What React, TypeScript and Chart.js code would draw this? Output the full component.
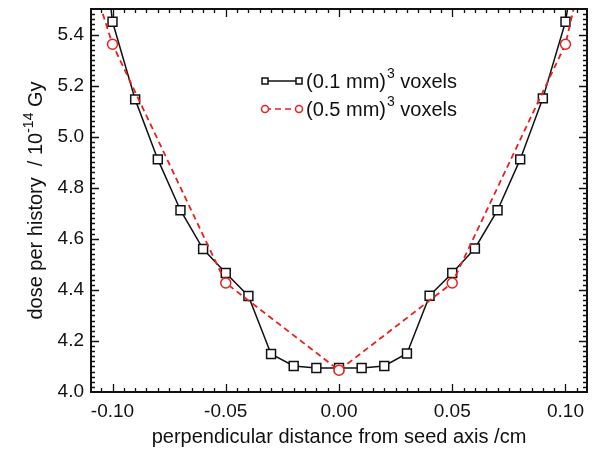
import React, { useEffect, useRef } from "react";
import { Chart, registerables } from "chart.js";

Chart.register(...registerables);

// ---- data ----
const fineDistance = [-0.11, -0.1, -0.09, -0.08, -0.07, -0.06, -0.05, -0.04, -0.03, -0.02, -0.01, 0, 0.01, 0.02, 0.03, 0.04, 0.05, 0.06, 0.07, 0.08, 0.09, 0.1, 0.11];
const fineDose = [6.2, 5.45, 5.146, 4.911, 4.712, 4.56, 4.466, 4.376, 4.149, 4.102, 4.094, 4.094, 4.094, 4.102, 4.151, 4.377, 4.466, 4.562, 4.712, 4.911, 5.15, 5.45, 6.0];
const coarseDistance = [-0.15, -0.1, -0.05, 0, 0.05, 0.1, 0.15];
const coarseDose = [6.75, 5.362, 4.427, 4.085, 4.427, 5.362, 7.3];

const xTickValues = [-0.1, -0.05, 0, 0.05, 0.1];
const yTickValues = [4.0, 4.2, 4.4, 4.6, 4.8, 5.0, 5.2, 5.4];

const xTitle = "perpendicular distance from seed axis /cm";
const yTitleParts = ["dose per history  / 10", "-14", " Gy"];
const seriesNames = ["(0.1 mm)", "(0.5 mm)"];
const seriesSup = "3";
const seriesSuffix = " voxels";

const FONT = "'Liberation Sans', Arial, Helvetica, sans-serif";
const BLACK = "#111111";
const RED = "#e8211e";

const X_MIN = -0.1095;
const X_MAX = 0.1095;
const Y_MIN = 4.0;
const Y_MAX = 5.5;

const framePlugin = {
  id: "framePlugin",
  afterDraw(chart: any) {
    const { ctx, chartArea } = chart;
    const { left, right, top, bottom } = chartArea;
    const xs = chart.scales.x;
    const ys = chart.scales.y;
    ctx.save();
    ctx.strokeStyle = BLACK;
    ctx.lineWidth = 1.3;
    // x ticks (inward, top and bottom)
    for (let i = -21; i <= 21; i++) {
      const v = i * 0.005;
      if (v <= X_MIN || v >= X_MAX) continue;
      const px = Math.round(xs.getPixelForValue(v)) + 0.5;
      const len = i % 10 === 0 ? 8 : 4;
      ctx.beginPath();
      ctx.moveTo(px, bottom);
      ctx.lineTo(px, bottom - len);
      ctx.moveTo(px, top);
      ctx.lineTo(px, top + len);
      ctx.stroke();
    }
    // y ticks (inward, left and right)
    for (let i = 1; i < 75; i++) {
      const v = 4.0 + i * 0.02;
      const py = Math.round(ys.getPixelForValue(v)) + 0.5;
      const len = i % 10 === 0 ? 8 : 4;
      ctx.beginPath();
      ctx.moveTo(left, py);
      ctx.lineTo(left + len, py);
      ctx.moveTo(right, py);
      ctx.lineTo(right - len, py);
      ctx.stroke();
    }
    // frame
    ctx.lineWidth = 2;
    ctx.strokeRect(left, top, right - left, bottom - top);

    // x title
    ctx.fillStyle = BLACK;
    ctx.font = `20px ${FONT}`;
    ctx.textAlign = "center";
    ctx.textBaseline = "middle";
    ctx.fillText(xTitle, (left + right) / 2, 437);

    // y title (rotated, with superscript)
    ctx.save();
    ctx.translate(35, (top + bottom) / 2);
    ctx.rotate(-Math.PI / 2);
    ctx.textAlign = "left";
    ctx.textBaseline = "alphabetic";
    const mainFont = `20px ${FONT}`;
    const supFont = `14px ${FONT}`;
    ctx.font = mainFont;
    const w0 = ctx.measureText(yTitleParts[0]).width;
    const w2 = ctx.measureText(yTitleParts[2]).width;
    ctx.font = supFont;
    const w1 = ctx.measureText(yTitleParts[1]).width;
    const total = w0 + w1 + w2;
    let cx = -total / 2;
    const base = 7;
    ctx.font = mainFont;
    ctx.fillText(yTitleParts[0], cx, base);
    cx += w0;
    ctx.font = supFont;
    ctx.fillText(yTitleParts[1], cx, base - 9);
    cx += w1;
    ctx.font = mainFont;
    ctx.fillText(yTitleParts[2], cx, base);
    ctx.restore();

    // legend
    const rows = [
      { y: 81, color: BLACK, dash: [] as number[], style: "rect" },
      { y: 109, color: RED, dash: [6, 4], style: "circle" },
    ];
    const lx0 = 265;
    const lx1 = 299;
    rows.forEach((r, idx) => {
      ctx.save();
      ctx.strokeStyle = r.color;
      ctx.lineWidth = 1.5;
      ctx.setLineDash(r.dash);
      ctx.beginPath();
      ctx.moveTo(lx0, r.y);
      ctx.lineTo(lx1, r.y);
      ctx.stroke();
      ctx.setLineDash([]);
      ctx.fillStyle = "#ffffff";
      [lx0, lx1].forEach((mx) => {
        ctx.beginPath();
        if (r.style === "rect") {
          ctx.rect(mx - 3, r.y - 3, 6, 6);
        } else {
          ctx.arc(mx, r.y, 3.5, 0, Math.PI * 2);
        }
        ctx.fill();
        ctx.stroke();
      });
      ctx.restore();
      ctx.fillStyle = BLACK;
      ctx.textAlign = "left";
      ctx.textBaseline = "alphabetic";
      let tx = 306;
      const by = r.y + 7;
      ctx.font = mainFont;
      ctx.fillText(seriesNames[idx], tx, by);
      tx += ctx.measureText(seriesNames[idx]).width + 1;
      ctx.font = supFont;
      ctx.fillText(seriesSup, tx, by - 10);
      tx += ctx.measureText(seriesSup).width;
      ctx.font = mainFont;
      ctx.fillText(seriesSuffix, tx, by);
    });
    ctx.restore();
  },
};

export default function App() {
  const ref = useRef<HTMLCanvasElement | null>(null);
  useEffect(() => {
    if (!ref.current) return;
    const inRange = (ctx: any) => {
      const raw = ctx.raw;
      return raw && raw.x >= -0.105 && raw.x <= 0.105;
    };
    const chart = new Chart(ref.current, {
      type: "line",
      data: {
        datasets: [
          {
            label: "(0.5 mm)3 voxels",
            data: coarseDistance.map((x, i) => ({ x, y: coarseDose[i] })),
            borderColor: RED,
            borderWidth: 1.8,
            borderDash: [6, 4],
            pointStyle: "circle",
            pointRadius: (c: any) => (inRange(c) ? 5 : 0),
            pointBorderWidth: 1.5,
            pointBorderColor: RED,
            pointBackgroundColor: "#ffffff",
            tension: 0,
            order: 0,
          },
          {
            label: "(0.1 mm)3 voxels",
            data: fineDistance.map((x, i) => ({ x, y: fineDose[i] })),
            borderColor: BLACK,
            borderWidth: 1.5,
            pointStyle: "rect",
            pointRadius: (c: any) => (inRange(c) ? 6.3 : 0),
            pointBorderWidth: 1.5,
            pointBorderColor: BLACK,
            pointBackgroundColor: "#ffffff",
            tension: 0,
            order: 1,
          },
        ],
      },
      options: {
        responsive: false,
        animation: false,
        devicePixelRatio: 1,
        layout: { padding: { left: 0, top: 9, right: 6, bottom: 0 } },
        plugins: { legend: { display: false }, tooltip: { enabled: false } },
        scales: {
          x: {
            type: "linear",
            min: X_MIN,
            max: X_MAX,
            grid: { display: false, drawTicks: false },
            border: { display: false },
            afterBuildTicks: (s: any) => {
              s.ticks = xTickValues.map((v) => ({ value: v }));
            },
            afterFit: (s: any) => {
              s.height = 58;
              s.paddingLeft = 0;
              s.paddingRight = 0;
            },
            ticks: {
              color: BLACK,
              font: { family: FONT, size: 19 },
              padding: 8,
              maxRotation: 0,
              autoSkip: false,
              callback: (v: any) => Number(v).toFixed(2),
            },
          },
          y: {
            type: "linear",
            min: Y_MIN,
            max: Y_MAX,
            grid: { display: false, drawTicks: false },
            border: { display: false },
            afterBuildTicks: (s: any) => {
              s.ticks = yTickValues.map((v) => ({ value: v }));
            },
            afterFit: (s: any) => {
              s.width = 91;
              s.paddingTop = 0;
              s.paddingBottom = 0;
            },
            ticks: {
              color: BLACK,
              font: { family: FONT, size: 19 },
              padding: 7,
              autoSkip: false,
              callback: (v: any) => Number(v).toFixed(1),
            },
          },
        },
      },
      plugins: [framePlugin],
    } as any);
    return () => chart.destroy();
  }, []);
  return (
    <div style={{ position: "absolute", left: 0, top: 0, width: 593, height: 450, background: "#fff" }}>
      <canvas ref={ref} width={593} height={450} />
    </div>
  );
}
